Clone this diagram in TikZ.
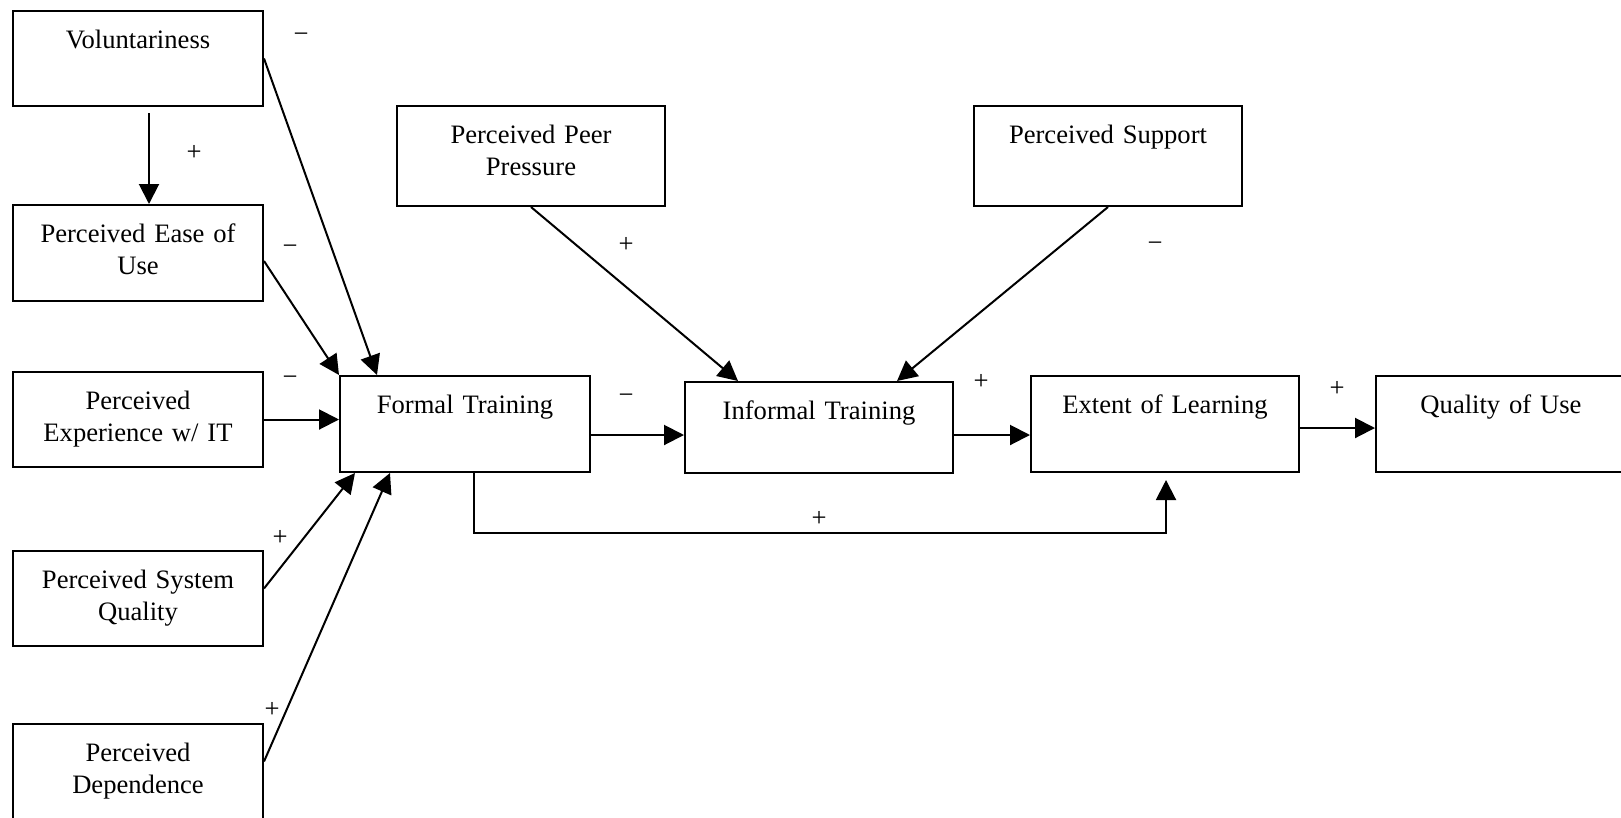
\documentclass[tikz,border=0pt]{standalone}
\usepackage{fontspec}
\setmainfont{Liberation Serif}
\usetikzlibrary{shapes,arrows.meta}

\begin{document}
\begin{tikzpicture}[x=1pt,y=-1pt,>={Triangle[length=20pt,width=20pt]},font=\fontsize{26.6pt}{32pt}\selectfont]
	\tikzstyle{block} = [draw, shape=rectangle, anchor=north west, line width=2pt, inner sep=0pt, text width=250pt, align=center, text height=37pt, text depth=58pt]
	\tikzstyle{wide} = [text width=268pt]
	\tikzstyle{sign} = [inner sep=0pt]
	\fill[white] (0,0) rectangle (1621,817);
	\clip (0,0) rectangle (1621,817);
	%Left column
	\node [block] at (12,10) (vol) {Voluntariness};
	\node [block, text depth=59pt] at (12,204) (ease) {Perceived Ease of\\Use};
	\node [block] at (12,371) (exper) {Perceived\\Experience w/ IT};
	\node [block] at (12,550) (sysq) {Perceived System\\Quality};
	\node [block] at (12,723) (dep) {Perceived\\Dependence};
	%Training and outcome blocks
	\node [block, text depth=59pt] at (339,375) (formal) {Formal Training};
	\node [block, wide, text depth=54pt] at (684,381) (informal) {Informal Training};
	\node [block, wide, text depth=59pt] at (1030,375) (extent) {Extent of Learning};
	\node [block, text depth=59pt] at (1375,375) (quality) {Quality of Use};
	\node [block, wide, text depth=63pt] at (396,105) (peer) {Perceived Peer\\Pressure};
	\node [block, wide, text depth=63pt] at (973,105) (support) {Perceived Support};
	%Signs
	\node [sign] at (194,153) (svolease) {+};
	\node [sign] at (301,38) (svol) {−};
	\node [sign] at (290,250) (sease) {−};
	\node [sign] at (290,381) (sexper) {−};
	\node [sign] at (280,538) (ssysq) {+};
	\node [sign] at (272,710) (sdep) {+};
	\node [sign] at (626,399) (sformal) {−};
	\node [sign] at (626,245) (speer) {+};
	\node [sign] at (1155,247) (ssupport) {−};
	\node [sign] at (981,382) (sinformal) {+};
	\node [sign] at (1337,389) (sextent) {+};
	\node [sign] at (819,519) (sdirect) {+};
	%Connecting blocks
	\begin{scope}[line width=2pt]
	\draw[->] ([xshift=11pt,yshift=-6pt]vol.south) -- ([xshift=11pt]ease.north);
	\draw[->] (vol.east) -- ([xshift=38pt]formal.north west);
	\draw[->] ([yshift=-8pt]ease.east) -- (formal.north west);
	\draw[->] (exper.east) -- (exper.east -| formal.west);
	\draw[->] ([yshift=10pt]sysq.east) -- ([xshift=16pt]formal.south west);
	\draw[->] ([yshift=10pt]dep.east) -- ([xshift=51pt]formal.south west);
	\draw[->] (peer.south) -- ([xshift=54pt]informal.north west);
	\draw[->] (support.south) -- ([xshift=213pt]informal.north west);
	\draw[->] ([yshift=-11pt]formal.east) -- ([yshift=-11pt]formal.east -| informal.west);
	\draw[->] ([yshift=-7.5pt]informal.east) -- ([yshift=-7.5pt]informal.east -| extent.west);
	\draw[->] ([yshift=-4pt]extent.east) -- ([yshift=-4pt]extent.east -| quality.west);
	\draw[->] ([xshift=9pt]formal.south) -- ++(0,60) -| ([xshift=1pt,yshift=-7pt]extent.south);
	\end{scope}
\end{tikzpicture}
\end{document}
